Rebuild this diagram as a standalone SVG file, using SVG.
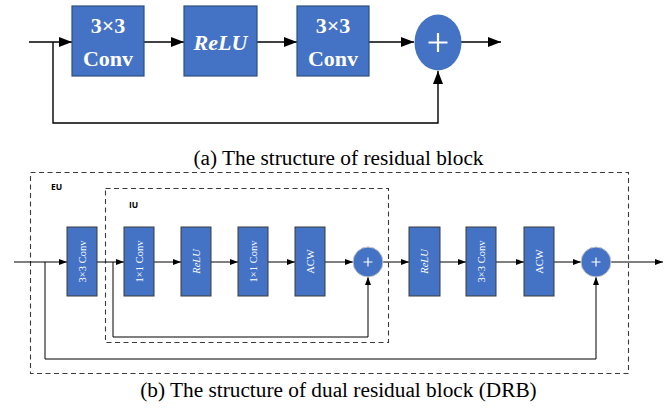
<svg xmlns="http://www.w3.org/2000/svg" width="666" height="408" viewBox="0 0 666 408">
  <style>
    .box { fill: #4472C4; stroke: #2F4F7F; stroke-width: 1.2; }
    .sbox { fill: #4472C4; stroke: #3A3A3A; stroke-width: 1; }
    .line { fill: none; stroke: #000; stroke-width: 1.4; }
    .sline { fill: none; stroke: #000; stroke-width: 1; }
    .dash { fill: none; stroke: #3A3A3A; stroke-width: 1.1; stroke-dasharray: 5 3.5; }
    .bigtxt { font-family: "Liberation Serif", "Times New Roman", serif; font-weight: bold; font-size: 22px; fill: #fff; text-anchor: middle; }
    .vtxt { font-family: "Liberation Serif", "Times New Roman", serif; font-size: 10.5px; fill: #fff; text-anchor: middle; }
    .cap { font-family: "Liberation Serif", "Times New Roman", serif; font-size: 21.3px; fill: #000; text-anchor: middle; }
    .lbl { font-family: "Open Sans", "DejaVu Sans", sans-serif; font-weight: bold; font-size: 8.5px; fill: #000; }
  </style>
  <defs>
    <marker id="bigArrow" markerUnits="userSpaceOnUse" markerWidth="14" markerHeight="12" refX="13" refY="5" orient="auto">
      <path d="M0,0 L13,5 L0,10 Z" fill="#000"/>
    </marker>
    <marker id="smallArrow" markerUnits="userSpaceOnUse" markerWidth="9" markerHeight="8" refX="8" refY="3" orient="auto">
      <path d="M0,0 L8,3 L0,6 Z" fill="#000"/>
    </marker>
  </defs>

  <!-- (a) residual block -->
  <g id="connectors-a">
    <path class="line" d="M29,42 L72,42" marker-end="url(#bigArrow)"/>
    <path class="line" d="M144,42 L184,42" marker-end="url(#bigArrow)"/>
    <path class="line" d="M257,42 L297,42" marker-end="url(#bigArrow)"/>
    <path class="line" d="M369,42 L414,42" marker-end="url(#bigArrow)"/>
    <path class="line" d="M461,42 L501,42" marker-end="url(#bigArrow)"/>
    <path class="line" d="M53,42 L53,123 L438,123 L438,71" marker-end="url(#bigArrow)"/>
  </g>
  <g id="a-conv1">
    <rect class="box" x="72" y="6" width="72" height="70"/>
    <text class="bigtxt" x="108" y="33">3×3</text>
    <text class="bigtxt" x="108" y="66">Conv</text>
  </g>
  <g id="a-relu">
    <rect class="box" x="184" y="6" width="73" height="70"/>
    <text class="bigtxt" x="220.5" y="50" font-style="italic">ReLU</text>
  </g>
  <g id="a-conv2">
    <rect class="box" x="297" y="6" width="72" height="70"/>
    <text class="bigtxt" x="333" y="33">3×3</text>
    <text class="bigtxt" x="333" y="66">Conv</text>
  </g>
  <g id="a-add">
    <ellipse cx="438" cy="42.5" rx="23.5" ry="28" fill="#4472C4"/>
    <path d="M438,33 V52 M428.5,42.5 H447.5" stroke="#fff" stroke-width="2.2"/>
  </g>
  <text class="cap" x="338.5" y="165">(a) The structure of residual block</text>

  <!-- (b) dual residual block -->
  <g id="eu-frame">
    <rect class="dash" x="30.5" y="172.5" width="598" height="201"/>
    <text class="lbl" x="51" y="190">EU</text>
  </g>
  <g id="iu-frame">
    <rect class="dash" x="105.5" y="188.5" width="283" height="154"/>
    <text class="lbl" x="129" y="208">IU</text>
  </g>

  <g id="connectors-b">
    <path class="sline" d="M14,262 L67,262" marker-end="url(#smallArrow)"/>
    <path class="sline" d="M97,262 L124,262" marker-end="url(#smallArrow)"/>
    <path class="sline" d="M154,262 L181,262" marker-end="url(#smallArrow)"/>
    <path class="sline" d="M211,262 L238,262" marker-end="url(#smallArrow)"/>
    <path class="sline" d="M268,262 L295,262" marker-end="url(#smallArrow)"/>
    <path class="sline" d="M325,262 L353,262" marker-end="url(#smallArrow)"/>
    <path class="sline" d="M383,262 L409,262" marker-end="url(#smallArrow)"/>
    <path class="sline" d="M440,262 L466,262" marker-end="url(#smallArrow)"/>
    <path class="sline" d="M496,262 L524,262" marker-end="url(#smallArrow)"/>
    <path class="sline" d="M554,262 L581,262" marker-end="url(#smallArrow)"/>
    <path class="sline" d="M611,262 L663,262" marker-end="url(#smallArrow)"/>
    <path class="sline" d="M113,262 L113,337 L368,337 L368,277" marker-end="url(#smallArrow)"/>
    <path class="sline" d="M45,262 L45,359 L596,359 L596,277" marker-end="url(#smallArrow)"/>
  </g>

  <g id="b-conv3x3-a">
    <rect class="sbox" x="67" y="227" width="30" height="69"/>
    <text class="vtxt" transform="translate(82,261.5) rotate(-90)" y="3.7">3×3 Conv</text>
  </g>
  <g id="b-conv1x1-a">
    <rect class="sbox" x="124" y="227" width="30" height="69"/>
    <text class="vtxt" transform="translate(139,261.5) rotate(-90)" y="3.7">1×1 Conv</text>
  </g>
  <g id="b-relu-a">
    <rect class="sbox" x="181" y="227" width="30" height="69"/>
    <text class="vtxt" transform="translate(196,261.5) rotate(-90)" y="3.7" font-style="italic">ReLU</text>
  </g>
  <g id="b-conv1x1-b">
    <rect class="sbox" x="238" y="227" width="30" height="69"/>
    <text class="vtxt" transform="translate(253,261.5) rotate(-90)" y="3.7">1×1 Conv</text>
  </g>
  <g id="b-acw-a">
    <rect class="sbox" x="295" y="227" width="30" height="69"/>
    <text class="vtxt" transform="translate(310,261.5) rotate(-90)" y="3.7">ACW</text>
  </g>
  <g id="b-add-iu">
    <circle cx="368" cy="262" r="15" fill="#4472C4" stroke="#C8C8C8" stroke-width="1"/>
    <path d="M368,257.5 V266.5 M363.5,262 H372.5" stroke="#fff" stroke-width="1.2"/>
  </g>
  <g id="b-relu-b">
    <rect class="sbox" x="409" y="227" width="31" height="69"/>
    <text class="vtxt" transform="translate(424.5,261.5) rotate(-90)" y="3.7" font-style="italic">ReLU</text>
  </g>
  <g id="b-conv3x3-b">
    <rect class="sbox" x="466" y="227" width="30" height="69"/>
    <text class="vtxt" transform="translate(481,261.5) rotate(-90)" y="3.7">3×3 Conv</text>
  </g>
  <g id="b-acw-b">
    <rect class="sbox" x="524" y="227" width="30" height="69"/>
    <text class="vtxt" transform="translate(539,261.5) rotate(-90)" y="3.7">ACW</text>
  </g>
  <g id="b-add-eu">
    <circle cx="596" cy="262" r="15" fill="#4472C4" stroke="#C8C8C8" stroke-width="1"/>
    <path d="M596,257.5 V266.5 M591.5,262 H600.5" stroke="#fff" stroke-width="1.2"/>
  </g>
  <text class="cap" x="338.5" y="397">(b) The structure of dual residual block (DRB)</text>
</svg>
